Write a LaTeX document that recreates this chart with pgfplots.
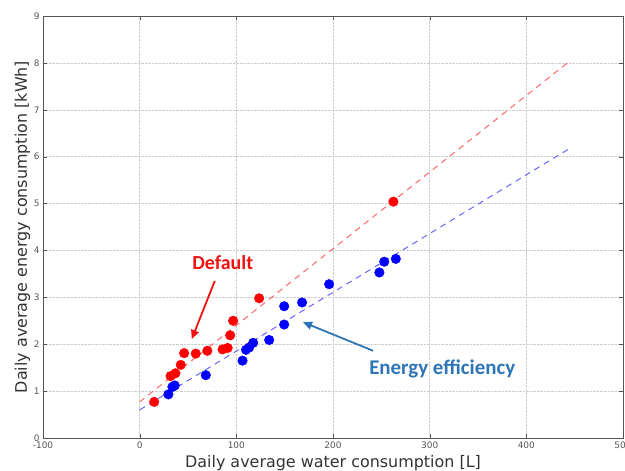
\documentclass[border=0pt]{standalone}
\usepackage{pgfplots}
\pgfplotsset{compat=1.18}
\usepackage{fontspec}
\setmainfont{DejaVu Sans}
\newfontfamily\annot{Carlito}
\usetikzlibrary{arrows.meta}
\definecolor{axgray}{HTML}{555555}
\definecolor{effblue}{HTML}{2E75B6}
\definecolor{defred}{HTML}{F01010}

\begin{document}
\begin{tikzpicture}
\begin{axis}[name=ax,
  width=580bp, height=422bp, scale only axis,
  xmin=-100, xmax=500, ymin=0, ymax=9,
  xtick={-100,0,100,200,300,400,500}, ytick={0,1,...,9},
  grid=major, grid style={densely dotted, gray!40},
  axis line style={axgray, line width=0.8pt},
  tick style={axgray}, tick align=inside, tick pos=both,
  major tick length=4bp,
  ticklabel style={font=\fontsize{9}{10}\selectfont, text=axgray},
  /pgf/number format/assume math mode=true,
  xlabel={Daily average water consumption [L]},
  ylabel={Daily average energy consumption [kWh]},
  label style={font=\fontsize{16}{18}\selectfont, text=black!80},
  xlabel style={at={(axis description cs:0.5,0)}, anchor=base, yshift=-29bp},
  ylabel style={at={(axis description cs:0,0.5)}, anchor=base, yshift=16bp},
  clip=false,
]
% fitted lines
\addplot[red!60, dashed, line width=1pt, dash pattern=on 6bp off 5bp] coordinates {(0,0.77) (445,8.04)};
\addplot[blue!60, dashed, line width=1pt, dash pattern=on 6bp off 5bp] coordinates {(0,0.60) (446,6.19)};
% default
\addplot[only marks, mark=*, mark size=4.8bp, red, mark options={draw=red, fill=red}] coordinates {
(15,0.77) (32,1.32) (37,1.38) (42.5,1.56) (46,1.81) (58,1.80) (70,1.86)
(85.7,1.89) (91,1.92) (93.6,2.19) (96.7,2.50) (123.6,2.98) (262.5,5.04)};
% energy efficiency
\addplot[only marks, mark=*, mark size=4.8bp, blue, mark options={draw=blue, fill=blue}] coordinates {
(29.7,0.93) (33.9,1.09) (36.3,1.12) (68.4,1.34) (106.4,1.65) (110,1.88)
(113.3,1.93) (117.4,2.03) (134,2.09) (149.5,2.42) (149.5,2.81) (168,2.89)
(196,3.28) (248,3.53) (253,3.76) (265,3.82)};
\node[font=\annot\bfseries\fontsize{20}{22}\selectfont, text=defred] at (axis cs:86,3.75) {Default};
\draw[-{Triangle[length=9bp,width=8bp]}, defred, line width=1.8pt] (axis cs:77.7,3.35) -- (axis cs:53.9,2.11);
\node[font=\annot\bfseries\fontsize{21}{23}\selectfont, text=effblue] at (axis cs:313,1.47) {Energy efficiency};
\draw[-{Triangle[length=9bp,width=8bp]}, effblue, line width=1.8pt] (axis cs:241.5,1.86) -- (axis cs:169,2.47);
\end{axis}
\pgfresetboundingbox
\path ([xshift=-43bp,yshift=-33bp]ax.south west) rectangle ([xshift=2bp,yshift=16bp]ax.north east);
\end{tikzpicture}
\end{document}
